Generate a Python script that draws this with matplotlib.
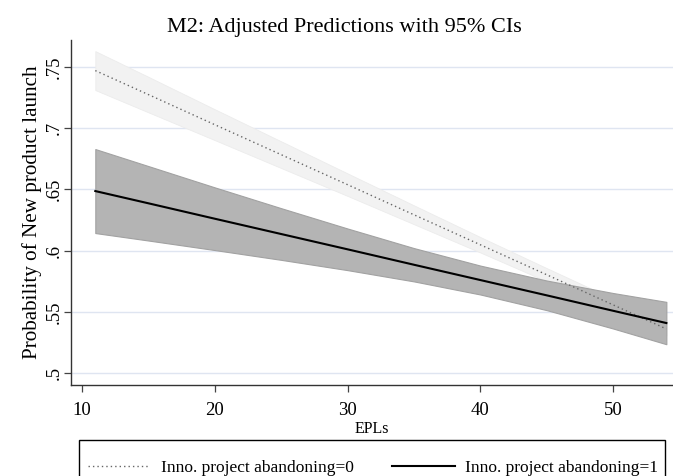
import matplotlib
matplotlib.use('Agg')
import matplotlib.pyplot as plt

plt.rcParams['font.family'] = ['Liberation Serif', 'DejaVu Serif']

# EPLs values where margins were evaluated
epl = [11, 15, 20, 25, 30, 35, 40, 45, 50, 54]

# Inno. project abandoning = 0
pred0 = [0.7470, 0.7274, 0.7028, 0.6783, 0.6538, 0.6292, 0.6047, 0.5802, 0.5556, 0.5360]
lo0 = [0.7311, 0.7129, 0.6902, 0.6674, 0.6446, 0.6215, 0.5984, 0.5748, 0.5506, 0.5308]
hi0 = [0.7629, 0.7419, 0.7154, 0.6892, 0.6630, 0.6369, 0.6110, 0.5856, 0.5606, 0.5412]

# Inno. project abandoning = 1
pred1 = [0.6486, 0.6386, 0.6260, 0.6135, 0.6010, 0.5884, 0.5759, 0.5634, 0.5508, 0.5408]
lo1 = [0.6143, 0.6082, 0.6004, 0.5924, 0.5840, 0.5748, 0.5641, 0.5513, 0.5363, 0.5235]
hi1 = [0.6829, 0.6690, 0.6516, 0.6346, 0.6180, 0.6020, 0.5877, 0.5755, 0.5653, 0.5581]

yticks = [0.5, 0.55, 0.6, 0.65, 0.7, 0.75]
ytick_labels = ['.5', '.55', '.6', '.65', '.7', '.75']
xticks = [10, 20, 30, 40, 50]

fig = plt.figure(figsize=(6.73, 4.76), dpi=100)
ax = fig.add_axes([0.1055, 0.1912, 0.8945, 0.7248])

# confidence bands first, then the lines on top
ax.fill_between(epl, lo0, hi0, facecolor='#f2f2f2', edgecolor='#ececec', lw=0.6, zorder=2)
ax.fill_between(epl, lo1, hi1, facecolor='#b4b4b4', edgecolor='#a2a2a2', lw=0.8, zorder=3)
l0, = ax.plot(epl, pred0, color='#666666', lw=1.0, linestyle=(0, (1, 2.2)), zorder=4,
              label='Inno. project abandoning=0')
l1, = ax.plot(epl, pred1, color='black', lw=1.5, zorder=5,
              label='Inno. project abandoning=1')

ax.set_xlim(9.17, 54.5)
ax.set_ylim(0.4902, 0.772)
ax.set_yticks(yticks)
ax.set_yticklabels(ytick_labels, rotation=90, va='center', fontsize=13.5)
ax.set_xticks(xticks)
ax.tick_params(axis='x', labelsize=13.5, length=5, width=0.9, color='#444444', pad=7)
ax.tick_params(axis='y', length=5, width=0.9, color='#444444', pad=1)

ax.yaxis.grid(True, color='#dfe5f1', lw=1.0, zorder=0)
ax.set_axisbelow(True)

for s in ['top', 'right']:
    ax.spines[s].set_visible(False)
for s in ['left', 'bottom']:
    ax.spines[s].set_color('#333333')
    ax.spines[s].set_linewidth(1.0)

ax.set_xlabel('EPLs', fontsize=11.5, labelpad=2)
ax.set_ylabel('Probability of New product launch', fontsize=15.2, labelpad=3)
fig.text(0.512, 0.9328, 'M2: Adjusted Predictions with 95% CIs', fontsize=16,
         ha='center', va='baseline')

# legend box runs off the bottom edge like the original, so draw it by hand
box = plt.Rectangle((79 / 673, -0.1), (665 - 79) / 673, 0.1 + (1 - 440 / 476),
                    transform=fig.transFigure, fill=False, ec='black', lw=1.0)
fig.patches.append(box)
leg = fig.legend(handles=[l0, l1], loc='center left', ncol=2,
                 bbox_to_anchor=(79 / 673, 1 - 468 / 476), bbox_transform=fig.transFigure,
                 borderaxespad=0, frameon=False, fontsize=12.5, handlelength=3.6,
                 handletextpad=0.62, columnspacing=2.2, borderpad=0.5)

fig.savefig('out.png', dpi=100)
